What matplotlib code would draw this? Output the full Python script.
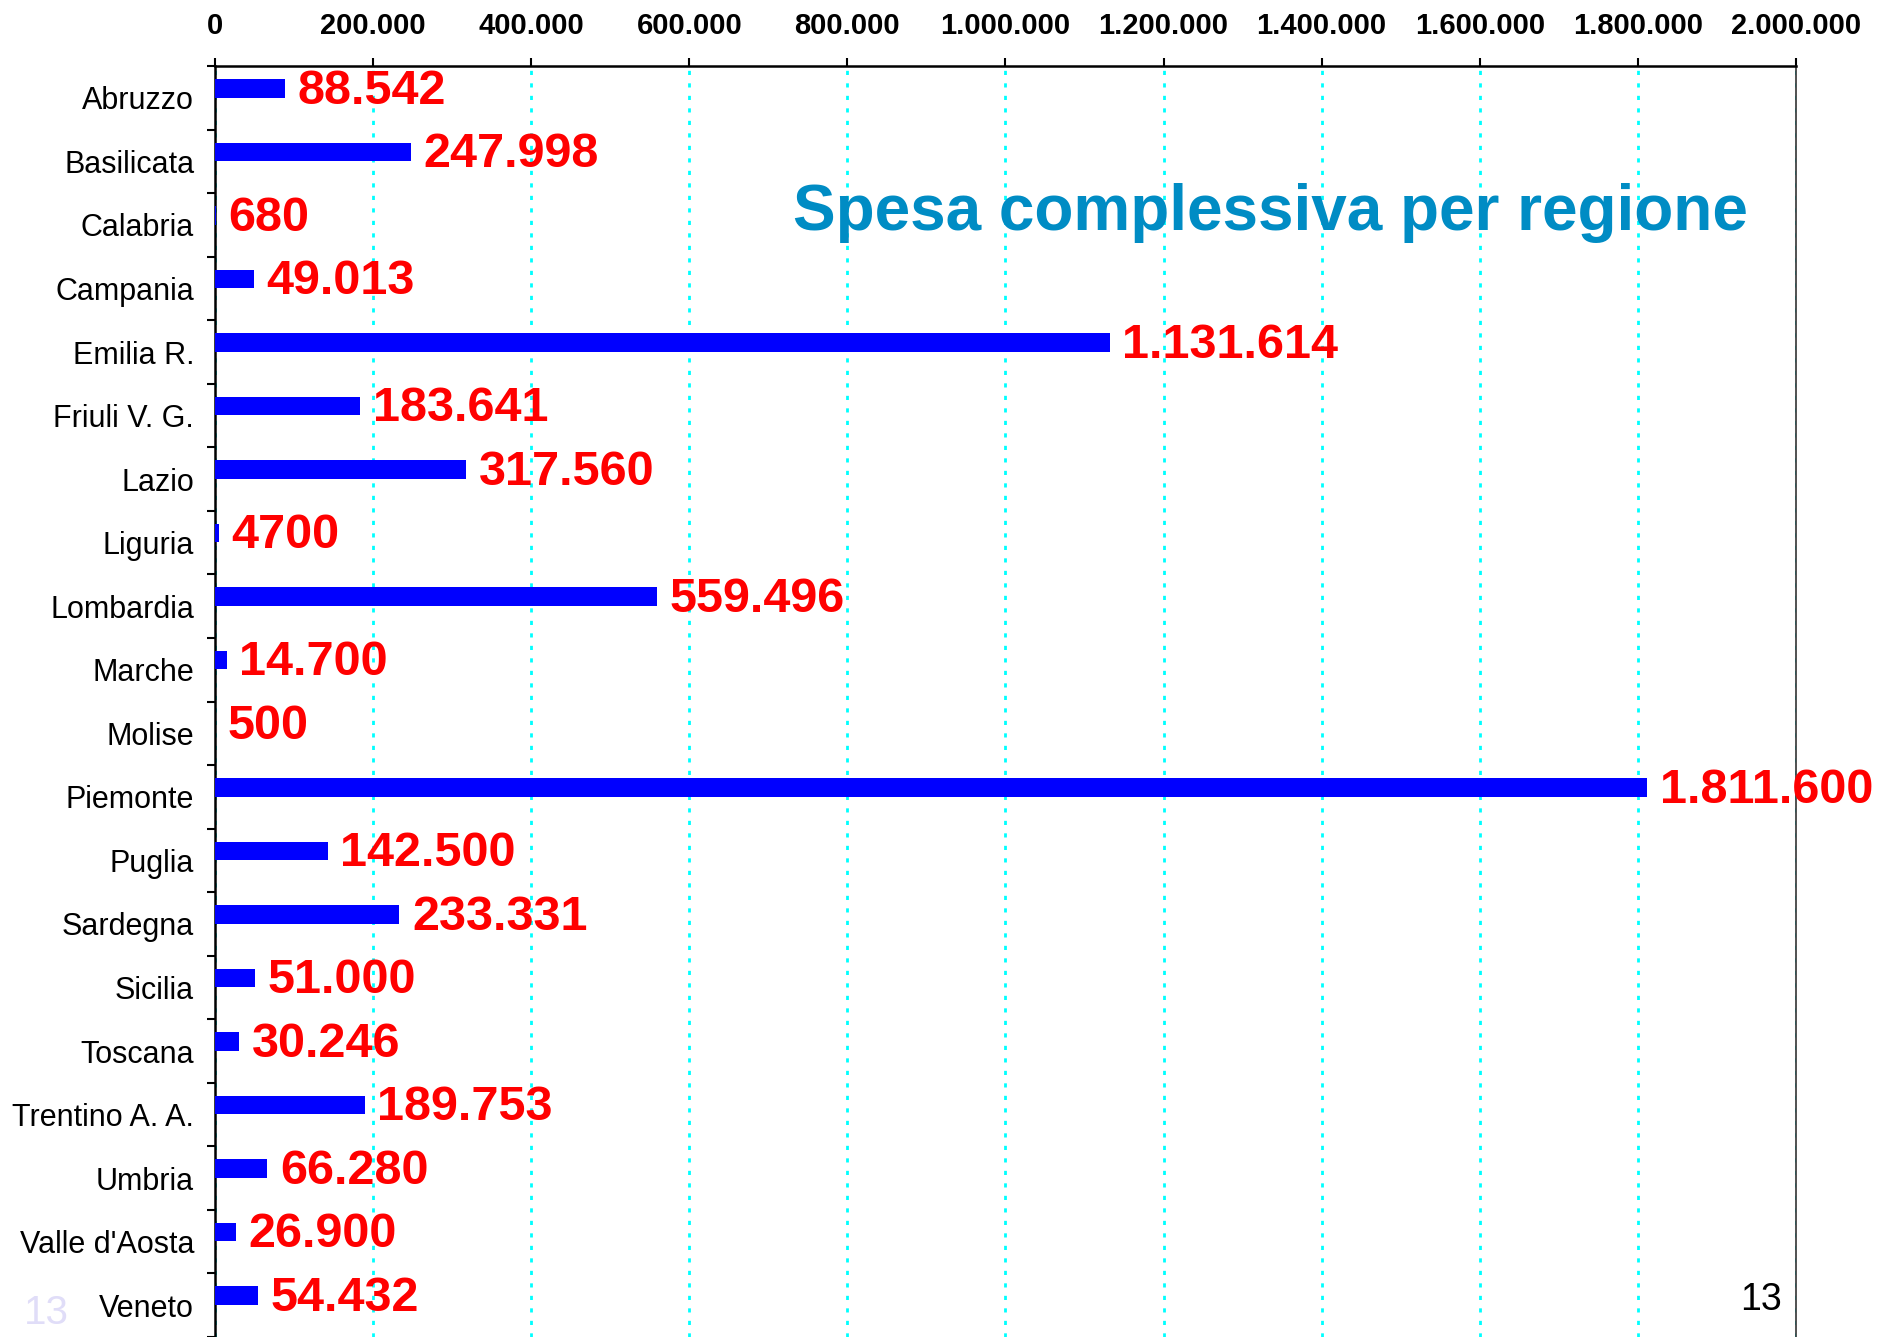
import matplotlib
matplotlib.use("Agg")
import matplotlib.pyplot as plt
import numpy as np

plt.rcParams['font.family'] = ['Liberation Sans', 'DejaVu Sans']

regioni = ["Abruzzo", "Basilicata", "Calabria", "Campania", "Emilia R.",
           "Friuli V. G.", "Lazio", "Liguria", "Lombardia", "Marche",
           "Molise", "Piemonte", "Puglia", "Sardegna", "Sicilia",
           "Toscana", "Trentino A. A.", "Umbria", "Valle d'Aosta", "Veneto"]
spesa = [88542, 247998, 680, 49013, 1131614, 183641, 317560, 4700, 559496, 14700,
         500, 1811600, 142500, 233331, 51000, 30246, 189753, 66280, 26900, 54432]
etichette = ["88.542", "247.998", "680", "49.013", "1.131.614", "183.641", "317.560",
             "4700", "559.496", "14.700", "500", "1.811.600", "142.500", "233.331",
             "51.000", "30.246", "189.753", "66.280", "26.900", "54.432"]
x_ticks = np.arange(0, 2000001, 200000)
x_tick_labels = ["0", "200.000", "400.000", "600.000", "800.000", "1.000.000",
                 "1.200.000", "1.400.000", "1.600.000", "1.800.000", "2.000.000"]

fig = plt.figure(figsize=(18.81, 13.37), dpi=100)
ax = fig.add_axes([0.1143, 0.0, 0.9548 - 0.1143, 0.9506])

y = np.arange(len(regioni))
ax.barh(y - 0.15, spesa, height=0.29, color='#0000FF', zorder=3)

for yi, v, t in zip(y, spesa, etichette):
    ax.annotate(t, (v, yi - 0.15), xytext=(9, -2), textcoords='offset points',
                ha='left', va='center', color='#FF0000', fontsize=35,
                fontweight='bold', zorder=4)

ax.set_xlim(0, 2000000)
ax.set_ylim(len(regioni) - 0.5, -0.5)

ax.xaxis.tick_top()
ax.set_xticks(x_ticks)
ax.set_xticklabels(x_tick_labels, fontsize=21, fontweight='bold')
ax.tick_params(axis='x', direction='out', length=6, width=1.5, pad=13, colors='black')

ax.set_yticks(y)
ax.set_yticklabels(regioni, fontsize=22)
ax.tick_params(axis='y', which='major', length=0, pad=15)
ax.set_yticks(np.arange(-0.5, len(regioni), 1), minor=True)
ax.tick_params(axis='y', which='minor', direction='out', length=6, width=1.5)

ax.grid(axis='x', color='#00FFFF', linestyle=(0, (1.5, 3)), linewidth=2, zorder=1)

ax.spines['top'].set_linewidth(1.8)
ax.spines['left'].set_linewidth(1.8)
ax.spines['right'].set_linewidth(1.2)
ax.spines['right'].set_color('#333333')
ax.spines['bottom'].set_visible(False)

fig.text(1270 / 1881, 1 - 213 / 1337, "Spesa complessiva per regione",
         ha='center', va='center', fontsize=46, fontweight='bold', color='#008CC4')
fig.text(24 / 1881, 1 - 1313 / 1337, "13", ha='left', va='center',
         fontsize=29, color='#E0DDF8')
fig.text(1782 / 1881, 1 - 1300 / 1337, "13", ha='right', va='center',
         fontsize=27, color='black')

fig.savefig("out.png", dpi=100)
